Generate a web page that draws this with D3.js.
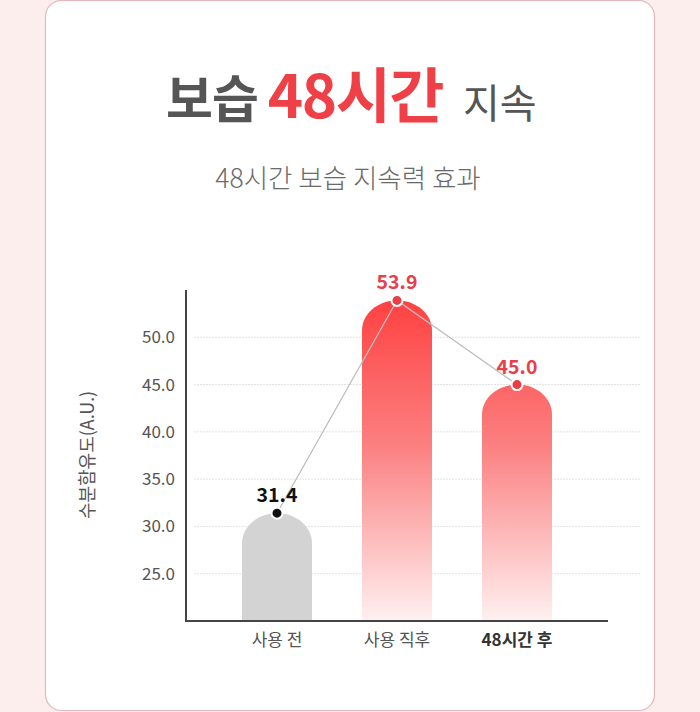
<!DOCTYPE html>
<html><head><meta charset="utf-8">
<script src="https://cdn.jsdelivr.net/npm/d3@7"></script>
<style>
html,body{margin:0;padding:0;background:#fdeeee;}
svg{display:block;}
text{font-family:"Noto Sans CJK KR","Noto Sans",sans-serif;}
</style></head>
<body><svg id="c" width="700" height="712"></svg>
<script>
const categories = ["사용 전", "사용 직후", "48시간 후"];
const values = [31.4, 53.9, 45.0];
const yTicks = [25, 30, 35, 40, 45, 50];
const yDomain = [20, 55];
const titleParts = ["보습", "48시간", "지속"];
const subtitle = "48시간 보습 지속력 효과";
const yLabel = "수분함유도(A.U.)";

const svg = d3.select("#c");
// card
svg.append("rect").attr("x",45.5).attr("y",0.5).attr("width",609).attr("height",710)
  .attr("rx",16).attr("fill","#fff").attr("stroke","#e4b6bd").attr("stroke-width",1.2);

// title
const t = svg.append("text").attr("x",166).attr("y",118).attr("text-anchor","start");
t.append("tspan").text(titleParts[0]).attr("font-size",51).attr("font-weight",700).attr("fill","#555").attr("letter-spacing",-1);
t.append("tspan").attr("dx",10).text(titleParts[1]).attr("font-size",60).attr("font-weight",700).attr("fill","#ef3f47").attr("letter-spacing",-1.5);
t.append("tspan").attr("dx",20).text(titleParts[2]).attr("font-size",40).attr("font-weight",400).attr("fill","#555");

svg.append("text").attr("x",348).attr("y",188).attr("text-anchor","middle")
  .attr("font-size",26.5).attr("fill","#6a6a6a").attr("font-weight",300).text(subtitle);

const y = d3.scaleLinear().domain(yDomain).range([621, 290]);
const x = d3.scaleBand().domain(categories).range([217, 577]).paddingInner(50/120).paddingOuter(25/120);

const defs = svg.append("defs");
const g = defs.append("linearGradient").attr("id","rg").attr("gradientUnits","userSpaceOnUse")
  .attr("x1",0).attr("x2",0).attr("y1",y(54)).attr("y2",y(20));
g.append("stop").attr("offset","0%").attr("stop-color","#ff4141");
g.append("stop").attr("offset","45%").attr("stop-color","#fb7f80");
g.append("stop").attr("offset","100%").attr("stop-color","#fff0f0");

// grid
svg.append("g").selectAll("line").data(yTicks).join("line")
  .attr("x1",194).attr("x2",640).attr("y1",d=>y(d)).attr("y2",d=>y(d))
  .attr("stroke","#e2e2e2").attr("stroke-width",1).attr("stroke-dasharray","2,1");

// bars with rounded top
const bw = x.bandwidth();
const ry = 30;
svg.append("g").selectAll("path").data(values).join("path")
  .attr("d",(d,i)=>{
    const x0 = x(categories[i]), x1 = x0+bw, top = y(d), bot = y(yDomain[0]);
    return `M${x0},${bot} L${x0},${top+ry} C${x0},${top+ry*0.45} ${x0+bw*0.22},${top} ${x0+bw/2},${top} C${x1-bw*0.22},${top} ${x1},${top+ry*0.45} ${x1},${top+ry} L${x1},${bot} Z`;
  })
  .attr("fill",(d,i)=> i===0 ? "#d3d3d3" : "url(#rg)");

// axes
const yAxis = svg.append("g").attr("transform","translate(186,0)")
  .call(d3.axisLeft(y).tickValues(yTicks).tickFormat(d3.format(".1f")).tickSize(0).tickPadding(11));
yAxis.select(".domain").remove();
yAxis.selectAll("text").attr("font-size",17).attr("fill","#555").attr("font-family","'Noto Sans CJK KR',sans-serif");
svg.append("line").attr("x1",186).attr("x2",186).attr("y1",290).attr("y2",622).attr("stroke","#444").attr("stroke-width",2);
svg.append("line").attr("x1",185).attr("x2",608).attr("y1",621).attr("y2",621).attr("stroke","#444").attr("stroke-width",2);

const xAxis = svg.append("g").attr("transform","translate(0,621)")
  .call(d3.axisBottom(x).tickSize(0).tickPadding(13));
xAxis.select(".domain").remove();
xAxis.selectAll("text").attr("font-size",17).attr("fill","#555")
  .attr("font-family","'Noto Sans CJK KR',sans-serif")
  .attr("font-weight",(d,i)=>i===2?700:400).attr("fill",(d,i)=>i===2?"#333":"#555");

// y label
svg.append("text").attr("transform","translate(94,455) rotate(-90)").attr("text-anchor","middle")
  .attr("font-size",18).attr("fill","#555").text(yLabel);

// line
const line = d3.line().x((d,i)=>x(categories[i])+bw/2).y(d=>y(d));
svg.append("path").attr("d",line(values)).attr("fill","none").attr("stroke","#bdbdbd").attr("stroke-width",1.2);

// points
svg.append("g").selectAll("circle").data(values).join("circle")
  .attr("cx",(d,i)=>x(categories[i])+bw/2).attr("cy",d=>y(d)).attr("r",5.5)
  .attr("fill",(d,i)=>i===0?"#111":"#ea3d47").attr("stroke","#fff").attr("stroke-width",2);

// labels
svg.append("g").selectAll("text").data(values).join("text")
  .attr("x",(d,i)=>x(categories[i])+bw/2).attr("y",d=>y(d)-11).attr("text-anchor","middle")
  .attr("font-size",19.5).attr("font-weight",700)
  .attr("fill",(d,i)=>i===0?"#111":"#e8404a").text(d=>d.toFixed(1));
</script></body></html>
